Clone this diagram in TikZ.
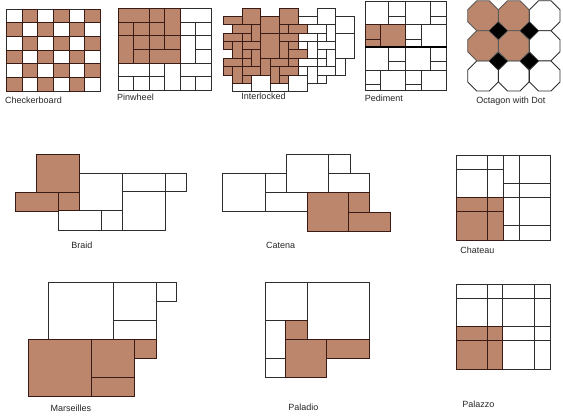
\documentclass[tikz,border=0pt]{standalone}
\usepackage{fontspec}
\setmainfont{Liberation Sans}
\definecolor{tilebrown}{RGB}{187,134,107}
\definecolor{brownedge}{RGB}{58,26,20}
\definecolor{whiteedge}{RGB}{45,45,45}
\tikzset{
  whitetile/.style={draw=whiteedge,fill=white,line width=0.9pt},
  browntile/.style={draw=brownedge,fill=tilebrown,line width=0.9pt},
  tilename/.style={font=\fontsize{9}{10}\selectfont,text=black!85,inner sep=0pt}
}
\newcommand{\octagontile}[3]{%
  \draw[#3] (#1-6.3,#2-15) -- (#1+6.3,#2-15) -- (#1+15.3,#2-6) -- (#1+15.3,#2+6)
    -- (#1+6.3,#2+15) -- (#1-6.3,#2+15) -- (#1-15.3,#2+6) -- (#1-15.3,#2-6) -- cycle;}

\begin{document}
\begin{tikzpicture}[x=1pt,y=-1pt]
  \useasboundingbox (0,0) rectangle (563,420);
  % checkerboard
  \begin{scope}[shift={(6.7,9)},x=15.6pt,y=-13.7pt]
    \foreach \row in {0,...,5}{
      \foreach \col in {0,...,5}{
        \pgfmathtruncatemacro{\odd}{mod(\row+\col,2)}
        \ifnum\odd=0
          \draw[whitetile] (\col,\row) rectangle ++(1,1);
        \fi
      }
    }
    \foreach \row in {0,...,5}{
      \foreach \col in {0,...,5}{
        \pgfmathtruncatemacro{\odd}{mod(\row+\col,2)}
        \ifnum\odd=1
          \draw[browntile] (\col,\row) rectangle ++(1,1);
        \fi
      }
    }
  \end{scope}
  \node[tilename] (checkerboard) at (33.5,100) {Checkerboard};
  % pinwheel
  \begin{scope}[shift={(118,8.3)},x=15.53pt,y=-13.7pt]
    \foreach \xa/\ya/\xb/\yb in {4/0/6/1,4/1/5/2,5/1/6/2,4/2/5/4,5/2/6/3,5/3/6/4,
      0/4/2/5,2/4/3/5,3/4/4/6,4/4/6/5,0/5/1/6,1/5/2/6,2/5/3/6,4/5/5/6,5/5/6/6}{
      \draw[whitetile] (\xa,\ya) rectangle (\xb,\yb);
    }
    \foreach \xa/\ya/\xb/\yb in {0/0/2/1,2/0/3/1,3/0/4/2,3/2/4/3,0/1/1/2,1/1/2/2,2/1/3/2,
      0/2/1/4,1/2/2/3,2/2/3/3,1/3/2/4,2/3/4/4}{
      \draw[browntile] (\xa,\ya) rectangle (\xb,\yb);
    }
  \end{scope}
  \node[tilename] (pinwheel) at (135.5,97.7) {Pinwheel};
  % interlocked
  \begin{scope}[shift={(223.3,8)},x=9.37pt,y=-8.37pt]
    \foreach \xa/\ya/\xb/\yb in {1/9/3/10,3/8/5/10,5/9/7/10,7/8/9/10,
      8/1/10/2,10/0/12/2,12/1/14/3,12/3/14/6,9/2/11/3,11/2/12/4,8/3/10/4,10/3/11/4,
      8/4/9/5,9/4/10/6,10/4/12/5,10/5/11/6,11/5/12/7,8/6/10/7,10/6/11/7,12/6/13/8,
      8/7/9/8,9/7/10/9,10/7/12/8,10/8/11/9}{
      \draw[whitetile] (\xa,\ya) rectangle (\xb,\yb);
    }
    \foreach \xa/\ya/\xb/\yb in {2/0/4/2,6/0/8/2,0/1/2/2,4/1/6/3,4/3/6/6,1/2/3/3,3/2/4/4,
      6/2/7/3,7/2/9/3,0/3/2/4,2/3/3/4,6/3/8/4,0/4/1/5,1/4/2/6,2/4/4/5,6/4/7/6,7/4/8/5,
      2/5/3/6,3/5/4/7,7/5/9/6,0/6/2/7,2/6/3/7,4/6/5/8,5/6/7/7,7/6/8/7,0/7/1/8,1/7/2/9,
      2/7/4/8,5/7/6/9,6/7/8/8,2/8/3/9,6/8/7/9}{
      \draw[browntile] (\xa,\ya) rectangle (\xb,\yb);
    }
  \end{scope}
  \node[tilename] (interlocked) at (263.5,96.7) {Interlocked};
  % pediment
  \foreach \xa/\ya/\xb/\yb in {365.3/1.7/388.7/24,388.7/1.7/405.3/16,388.7/16/405.3/24,
    405.3/1.7/430/24,430/1.7/446.7/16,430/16/446.7/24,
    405.3/24/421.3/39,405.3/39/421.3/47.3,421.3/24/446.7/47.3,
    365.3/47.3/388.7/70,388.7/47.3/405.3/61.7,388.7/61.7/405.3/70,
    405.3/47.3/430/70,430/47.3/446.7/61.7,430/61.7/446.7/70,
    365.3/70/380.7/84,365.3/84/380.7/90.7,380.7/70/405.3/90.7,
    405.3/70/421.3/84,405.3/84/421.3/90.7,421.3/70/446.7/90.7}{
    \draw[whitetile] (\xa,\ya) rectangle (\xb,\yb);
  }
  \foreach \xa/\ya/\xb/\yb in {365.3/24/380.7/39,365.3/39/380.7/47.3,380.7/24/405.3/47.3}{
    \draw[browntile] (\xa,\ya) rectangle (\xb,\yb);
  }
  \draw[black,line width=1.8pt] (365.3,47.3) -- (446.7,47.3);
  \node[tilename] (pediment) at (383.8,98.7) {Pediment};
  % octagon with dot
  \foreach \cx/\cy in {544.7/15.8,544.7/45.8,483/76,513.8/76,544.7/76}{
    \octagontile{\cx}{\cy}{whitetile}
  }
  \foreach \cx/\cy in {483/15.8,513.8/15.8,483/45.8,513.8/45.8}{
    \octagontile{\cx}{\cy}{browntile,draw=black!65}
  }
  \foreach \cx/\cy in {498.3/30.7,529.3/30.7,498.3/61,529.3/61}{
    \fill[black] (\cx-9,\cy) -- (\cx,\cy-8.5) -- (\cx+9,\cy) -- (\cx,\cy+8.5) -- cycle;
  }
  \node[tilename] (octagon) at (510.8,101) {Octagon with Dot};
  % braid
  \foreach \xa/\ya/\xb/\yb in {79.3/173/122.3/210.3,122.3/173/165/191.7,165/173/186/191.7,
    122.3/191.7/165/230,58.3/210.3/101.3/230,101.3/210.3/122.3/230}{
    \draw[whitetile] (\xa,\ya) rectangle (\xb,\yb);
  }
  \foreach \xa/\ya/\xb/\yb in {36.7/154.3/79.3/192.3,15.3/192.3/58.3/211.3,58.3/192.3/79.3/210.3}{
    \draw[browntile] (\xa,\ya) rectangle (\xb,\yb);
  }
  \node[tilename] (braid) at (82,245) {Braid};
  % catena
  \foreach \xa/\ya/\xb/\yb in {222.3/173.7/265/211.3,265/173.7/286/192.7,265/192.7/307/211.3,
    286/154.3/328/192.7,328/154.3/350/173.7,328/173.7/369.7/192.7}{
    \draw[whitetile] (\xa,\ya) rectangle (\xb,\yb);
  }
  \foreach \xa/\ya/\xb/\yb in {307/192.7/348.7/231.3,348.7/192.7/369.7/212.3,348.7/212.3/390.7/231.3}{
    \draw[browntile] (\xa,\ya) rectangle (\xb,\yb);
  }
  \node[tilename] (catena) at (280.7,245.3) {Catena};
  % chateau
  \foreach \xa/\ya/\xb/\yb in {456.7/155.3/487.3/169.3,487.3/155.3/503.7/169.3,
    456.7/169.3/487.3/197.3,487.3/169.3/503.7/197.3,
    503.7/155.3/519.3/183.7,519.3/155.3/550.3/183.7,503.7/183.7/519.3/197.3,519.3/183.7/550.3/197.3,
    503.7/197.3/519.3/225.3,519.3/197.3/550.3/225.3,503.7/225.3/519.3/240,519.3/225.3/550.3/240}{
    \draw[whitetile] (\xa,\ya) rectangle (\xb,\yb);
  }
  \foreach \xa/\ya/\xb/\yb in {456.7/197.3/487.3/211.3,487.3/197.3/503.7/211.3,
    456.7/211.3/487.3/240,487.3/211.3/503.7/240}{
    \draw[browntile] (\xa,\ya) rectangle (\xb,\yb);
  }
  \node[tilename] (chateau) at (477.3,250.3) {Chateau};
  % marseilles
  \foreach \xa/\ya/\xb/\yb in {48.7/282/113.7/339,113.7/282/156.3/320.7,156.3/282/176.7/301,
    113.7/320.7/156.3/339}{
    \draw[whitetile] (\xa,\ya) rectangle (\xb,\yb);
  }
  \foreach \xa/\ya/\xb/\yb in {28.7/339/91.7/396.3,91.7/339/134.3/377.7,91.7/377.7/134.3/396.3,
    134.3/339/156.3/358}{
    \draw[browntile] (\xa,\ya) rectangle (\xb,\yb);
  }
  \node[tilename] (marseilles) at (71,408) {Marseilles};
  % paladio
  \foreach \xa/\ya/\xb/\yb in {265/282/307/320.3,307/282/369.7/339,265/320.3/285/358.7,
    265/358.7/285/377}{
    \draw[whitetile] (\xa,\ya) rectangle (\xb,\yb);
  }
  \foreach \xa/\ya/\xb/\yb in {285/320.3/307/339,285/339/326.7/377,326.7/339/369.7/358.7}{
    \draw[browntile] (\xa,\ya) rectangle (\xb,\yb);
  }
  \node[tilename] (paladio) at (303.3,407.7) {Paladio};
  % palazzo
  \foreach \xa/\ya/\xb/\yb in {456.3/284/487.3/298.3,487.3/284/502.7/298.3,502.7/284/534.7/298.3,534.7/284/550.3/298.3,
    456.3/298.3/487.3/326,487.3/298.3/502.7/326,502.7/298.3/534.7/326,534.7/298.3/550.3/326,
    502.7/326/534.7/340.3,534.7/326/550.3/340.3,502.7/340.3/534.7/369,534.7/340.3/550.3/369}{
    \draw[whitetile] (\xa,\ya) rectangle (\xb,\yb);
  }
  \foreach \xa/\ya/\xb/\yb in {456.3/326/487.3/340.3,487.3/326/502.7/340.3,
    456.3/340.3/487.3/369,487.3/340.3/502.7/369}{
    \draw[browntile] (\xa,\ya) rectangle (\xb,\yb);
  }
  \node[tilename] (palazzo) at (478.3,404.3) {Palazzo};
\end{tikzpicture}
\end{document}
